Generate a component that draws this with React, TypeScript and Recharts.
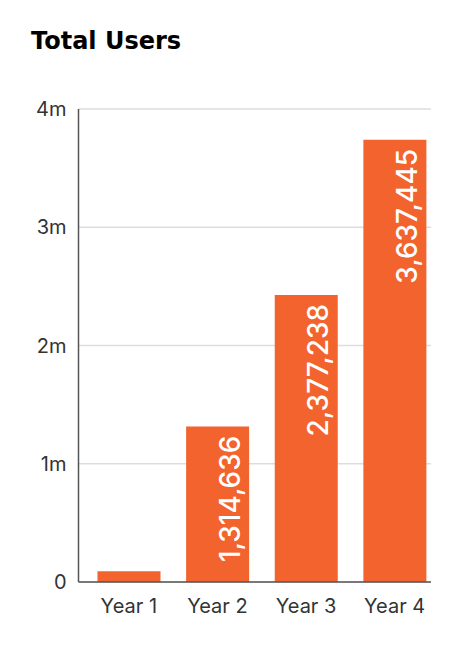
import React from "react";
import { BarChart, Bar, XAxis, YAxis, CartesianGrid, LabelList } from "recharts";

const categories = ["Year 1", "Year 2", "Year 3", "Year 4"];
const users = [91000, 1314636, 2428000, 3739000];
const valueLabels = ["", "1,314,636", "2,377,238", "3,637,445"];
const yTicks = [0, 1000000, 2000000, 3000000, 4000000];
const yTickLabels = ["0", "1m", "2m", "3m", "4m"];

const data = categories.map((name, i) => ({ name, users: users[i], label: valueLabels[i] }));

const BAR_COLOR = "#F3632E";
const AXIS_COLOR = "#555555";
const TEXT_COLOR = "#333333";
const FONT = "Inter, 'Noto Sans', sans-serif";

const VerticalLabel = (props: any) => {
  const { x, y, width, index } = props;
  const text = valueLabels[index];
  if (!text) return null;
  const bx = Number(x) + Number(width) / 2 + 22;
  const by = Number(y) + 9;
  return (
    <text
      x={bx}
      y={by}
      transform={`rotate(-90 ${bx} ${by})`}
      textAnchor="end"
      fill="#ffffff"
      fontFamily={FONT}
      fontWeight={500}
      fontSize={28}
    >
      {text}
    </text>
  );
};

export default function App() {
  return (
    <div
      style={{
        position: "absolute",
        left: 0,
        top: 0,
        width: 461,
        height: 645,
        background: "#ffffff",
        overflow: "hidden",
      }}
    >
      <div
        style={{
          position: "absolute",
          left: 31,
          top: 29,
          fontFamily: "'DejaVu Sans', sans-serif",
          fontWeight: 700,
          fontSize: 24,
          lineHeight: "24px",
          color: "#000000",
          whiteSpace: "nowrap",
        }}
      >
        Total Users
      </div>
      <div style={{ position: "absolute", left: 0, top: 0 }}>
        <BarChart
          width={461}
          height={645}
          data={data}
          margin={{ top: 109, right: 30, bottom: 33, left: 18.5 }}
        >
          <CartesianGrid vertical={false} stroke="#dddddd" strokeWidth={1.5} />
          <XAxis
            dataKey="name"
            height={30}
            padding={{ left: 6, right: -8 }}
            tickLine={false}
            tickSize={0}
            tickMargin={17}
            axisLine={{ stroke: AXIS_COLOR, strokeWidth: 1.5 }}
            tick={{ fill: TEXT_COLOR, fontSize: 20, fontFamily: FONT, fontWeight: 400 }}
            interval={0}
          />
          <YAxis
            width={60}
            domain={[0, 4000000]}
            ticks={yTicks}
            tickFormatter={(v: number) => yTickLabels[yTicks.indexOf(v)]}
            tickLine={false}
            tickSize={0}
            tickMargin={12}
            axisLine={{ stroke: AXIS_COLOR, strokeWidth: 1.5 }}
            tick={{ fill: TEXT_COLOR, fontSize: 20, fontFamily: FONT, fontWeight: 400 }}
            interval={0}
          />
          <Bar dataKey="users" fill={BAR_COLOR} barSize={63} isAnimationActive={false}>
            <LabelList dataKey="label" content={VerticalLabel} />
          </Bar>
        </BarChart>
      </div>
    </div>
  );
}
